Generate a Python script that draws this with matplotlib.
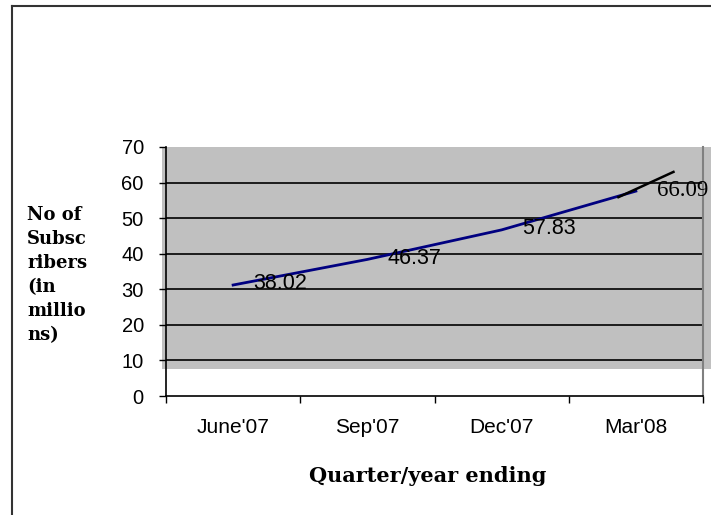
import matplotlib.pyplot as plt
from matplotlib.patches import Rectangle
from matplotlib.lines import Line2D

# data
quarters = ["June'07", "Sep'07", "Dec'07", "Mar'08"]
line_values = [31.2, 38.4, 46.7, 57.6]
label_values = ["38.02", "46.37", "57.83", "66.09"]
trend_x = [3.37, 3.78]
trend_y = [55.9, 63.0]
y_ticks = [0, 10, 20, 30, 40, 50, 60, 70]

fig = plt.figure(figsize=(7.11, 5.15), dpi=100)
ax = fig.add_axes([166 / 711, 1 - 396 / 515, 537 / 711, 249 / 515])

# grey plot area, a bit offset like the original
ax.add_patch(Rectangle((-0.03, 7.6), 4.1, 62.4, facecolor="#c0c0c0",
                       edgecolor="none", zorder=0, clip_on=False))

for v in y_ticks[1:-1]:
    ax.axhline(v, color="black", lw=1.2, zorder=1)

centers = [i + 0.5 for i in range(len(quarters))]
ax.plot(centers, line_values, color="#000080", lw=2.0, zorder=3)
ax.plot(trend_x, trend_y, color="black", lw=1.8, zorder=3)

for i, lab in enumerate(label_values):
    if i == len(label_values) - 1:
        fam, fs = "Liberation Serif", 16.5
    else:
        fam, fs = "Liberation Sans", 15.5
    ax.text(centers[i] + 0.35, line_values[i] + 0.3, lab, ha="center", va="center",
            fontsize=fs, family=fam, zorder=4)

ax.set_xlim(0, 4)
ax.set_ylim(0, 70)
ax.set_yticks(y_ticks)
ax.set_xticks(range(5))
ax.set_xticklabels([])
ax.set_xticks(centers, minor=True)
ax.set_xticklabels(quarters, minor=True, fontsize=15, family="Liberation Sans")
ax.tick_params(axis="x", which="major", direction="out", length=5, width=1)
ax.tick_params(axis="x", which="minor", length=0, pad=16)
ax.tick_params(axis="y", direction="out", length=5, width=1, pad=11)
for t in ax.get_yticklabels():
    t.set_fontsize(14.5)
    t.set_family("Liberation Sans")

ax.set_facecolor("none")
ax.spines["top"].set_visible(False)
ax.spines["right"].set_color("#808080")
ax.spines["right"].set_linewidth(1.5)
ax.spines["left"].set_linewidth(1.2)
ax.spines["bottom"].set_linewidth(1.2)

fig.text(27 / 711, 1 - 275 / 515, "No of\nSubsc\nribers\n(in\nmillio\nns)",
         ha="left", va="center", fontsize=13, fontweight="bold",
         family="DejaVu Serif", linespacing=1.42)
fig.text(428 / 711, 1 - 476 / 515, "Quarter/year ending", ha="center", va="center",
         fontsize=15, fontweight="bold", family="DejaVu Serif")

# outer frame (left and top only)
fig.add_artist(Line2D([12 / 711, 12 / 711], [0, 1 - 6 / 515], transform=fig.transFigure,
                      color="#333333", lw=1.5))
fig.add_artist(Line2D([12 / 711, 1], [1 - 6 / 515, 1 - 6 / 515], transform=fig.transFigure,
                      color="#333333", lw=1.5))

fig.savefig("out.png", dpi=100)
